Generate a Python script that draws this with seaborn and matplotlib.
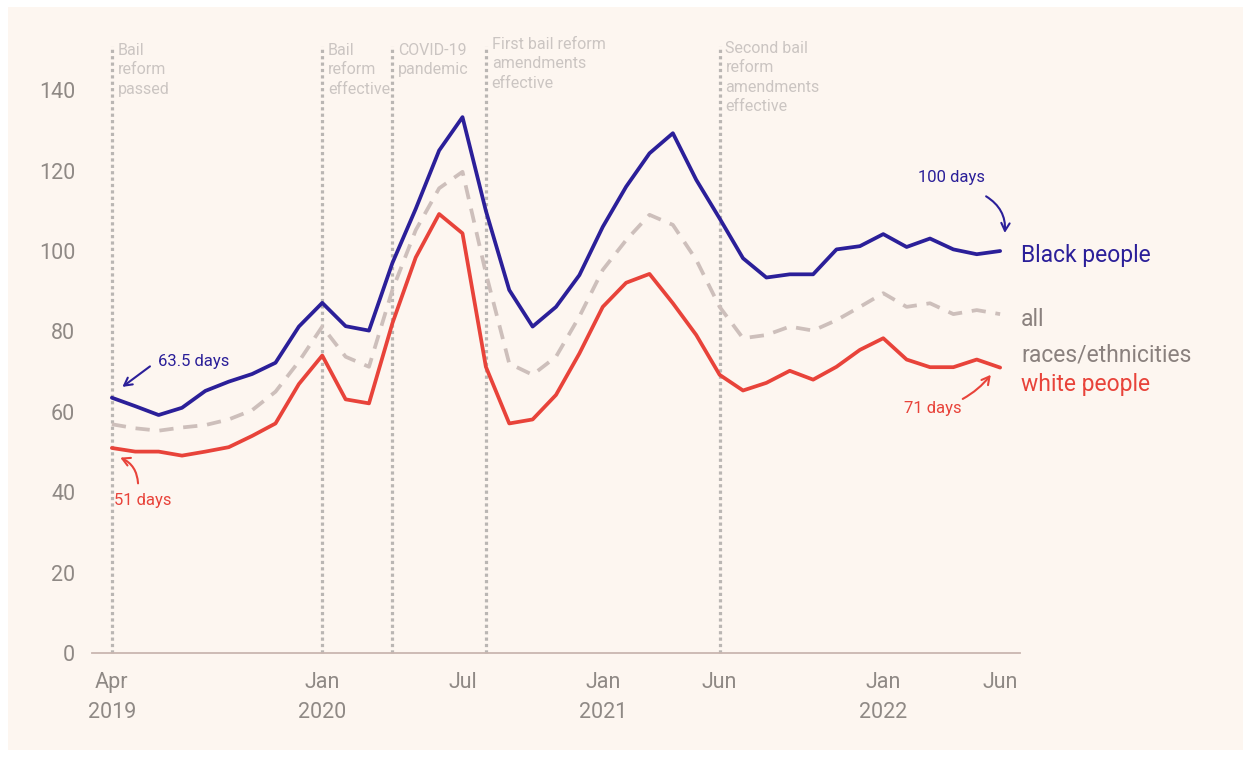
import matplotlib
matplotlib.use("Agg")
import matplotlib.pyplot as plt
from matplotlib.patches import Rectangle
import seaborn as sns
import pandas as pd

# monthly median days, Apr 2019 .. Jun 2022
months = pd.date_range("2019-04-01", "2022-06-01", freq="MS")
black = [63.5, 61.4, 59.2, 61, 65.2, 67.5, 69.4, 72.2, 81.2, 87.1,
         81.3, 80.2, 97, 110.5, 125, 133.3,
         110, 90.3, 81.2, 86.1, 94,
         106, 116, 124.3, 129.3, 117.7, 108.1,
         98.2, 93.4, 94.2, 94.2, 100.4, 101.2,
         104.2, 101, 103.1, 100.4, 99.2, 100]
white = [51, 50.1, 50.1, 49.1, 50.1, 51.2, 54, 57.1, 66.9, 74,
         63.1, 62.1, 82, 98.4, 109.2, 104.4,
         71.2, 57.1, 58.1, 64.2, 74.5,
         86.1, 92.1, 94.3, 87, 79.1, 69.2,
         65.3, 67.2, 70.2, 68, 71.2, 75.4,
         78.3, 73, 71.1, 71.1, 73, 71]
all_races = [56.9, 55.9, 55.3, 56.1, 56.7, 58.1, 60.4, 65, 72.5, 81.2,
             73.7, 71.2, 90.3, 105.2, 115.6, 119.7,
             94.5, 72, 69.2, 73.7, 83.7,
             95.3, 102.7, 109, 106.5, 97.8, 86.1,
             78.3, 79.1, 81.2, 80.2, 82.8, 86.1,
             89.5, 86.1, 87, 84.3, 85.3, 84.3]

tick_pos = [0, 9, 15, 21, 26, 33, 38]
tick_labels = ["Apr\n2019", "Jan\n2020", "Jul", "Jan\n2021", "Jun", "Jan\n2022", "Jun"]

event_pos = [0, 9, 12, 16, 26]
event_labels = ["Bail\nreform\npassed", "Bail\nreform\neffective", "COVID-19\npandemic",
                "First bail reform\namendments\neffective",
                "Second bail\nreform\namendments\neffective"]
event_top = [151.8, 151.8, 151.8, 153.3, 152.3]

BG = "#fdf6f0"
NAVY = "#2b1f99"
RED = "#e8433a"
GREY = "#cdbfbb"

idx = list(range(len(months)))
df = pd.concat([
    pd.DataFrame({"m": idx, "days": all_races, "group": "all"}),
    pd.DataFrame({"m": idx, "days": white, "group": "white"}),
    pd.DataFrame({"m": idx, "days": black, "group": "black"}),
])

sns.set_style("white")
plt.rcParams["font.family"] = ["Roboto", "DejaVu Sans"]

fig = plt.figure(figsize=(12.43, 7.58), dpi=100, facecolor="white")
fig.patches.append(Rectangle((8 / 1243, 8 / 758), 1235 / 1243, 743 / 758,
                             transform=fig.transFigure, facecolor=BG,
                             edgecolor="none", zorder=-10))
ax = fig.add_axes([92 / 1243, 105 / 758, 928 / 1243, 603 / 758])
ax.set_facecolor(BG)

# event markers
for xp, lab, top in zip(event_pos, event_labels, event_top):
    ax.plot([xp, xp], [0, 151], color="#bab6b3", lw=2.3, ls=(0, (1, 1)),
            clip_on=False, zorder=1)
    ax.text(xp + 0.25, top, lab, color="#cbc5c2", fontsize=11.5, va="top",
            ha="left", linespacing=1.38, clip_on=False)

sns.lineplot(data=df, x="m", y="days", hue="group", style="group",
             palette={"all": GREY, "white": RED, "black": NAVY},
             dashes={"all": (3.8, 2.6), "white": "", "black": ""},
             linewidth=2.7, legend=False, ax=ax, zorder=3)

ax.set_xlim(-0.85, 38.85)
ax.set_ylim(0, 150)
ax.set_xticks(tick_pos)
ax.set_xticklabels(tick_labels)
ax.set_yticks(range(0, 141, 20))
ax.tick_params(axis="both", length=0, labelsize=15.5, labelcolor="#8f8985")
ax.tick_params(axis="x", pad=14)
ax.tick_params(axis="y", pad=12)
for lab in ax.get_xticklabels():
    lab.set_linespacing(1.55)
ax.set_xlabel("")
ax.set_ylabel("")
for s in ["top", "right", "left"]:
    ax.spines[s].set_visible(False)
ax.spines["bottom"].set_color("#c9b6b0")
ax.spines["bottom"].set_linewidth(1.3)


def callout(text, color, tpos, tail, head, rad=0.0):
    ax.text(tpos[0], tpos[1], text, color=color, fontsize=12,
            ha="center", va="center")
    ax.annotate("", xy=head, xytext=tail,
                arrowprops=dict(arrowstyle="->,head_length=0.55,head_width=0.3",
                                color=color, lw=1.5, shrinkA=0, shrinkB=0,
                                connectionstyle=f"arc3,rad={rad}"))


callout("63.5 days", NAVY, (3.5, 72.4), (1.63, 71.3), (0.45, 66.2))
callout("51 days", RED, (1.3, 38.0), (1.12, 42.2), (0.36, 48.6), rad=0.3)
callout("100 days", NAVY, (35.9, 118.4), (37.4, 113.6), (38.2, 104.5), rad=-0.3)
callout("71 days", RED, (35.1, 60.9), (36.4, 63.2), (37.6, 69.2), rad=0.1)

# series labels
ax.text(38.9, 99, "Black people", color=NAVY, fontsize=16.5, va="center", clip_on=False)
ax.text(38.9, 83, "all", color="#8a817e", fontsize=16.5, va="center", clip_on=False)
ax.text(38.9, 74.2, "races/ethnicities", color="#8a817e", fontsize=16.5, va="center", clip_on=False)
ax.text(38.9, 66.9, "white people", color=RED, fontsize=16.5, va="center", clip_on=False)

fig.savefig("out.png", dpi=100, facecolor="white")
